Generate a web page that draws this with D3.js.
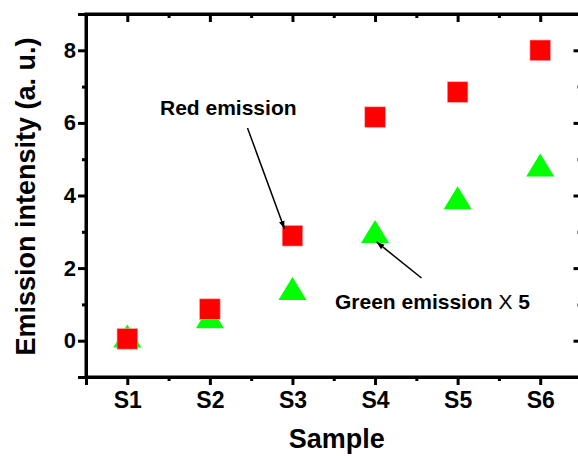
<!DOCTYPE html>
<html>
<head>
<meta charset="utf-8">
<script src="https://cdn.jsdelivr.net/npm/d3@7"></script>
<style>
  body { margin: 0; background: #fff; }
  svg text { font-family: "Liberation Sans", Arial, sans-serif; font-weight: bold; fill: #000; }
  .axis path, .axis line { stroke: #000; stroke-width: 3; }
</style>
</head>
<body>
<svg id="chart" width="578" height="456"></svg>
<script>
// Data
const samples = ["S1", "S2", "S3", "S4", "S5", "S6"];
const redEmission = [0.05, 0.87, 2.89, 6.16, 6.85, 8.0];
const greenEmissionX5 = [0.13, 0.66, 1.44, 3.01, 3.94, 4.84];
const yMajorTicks = [0, 2, 4, 6, 8];
const yMinorTicks = [-1, 1, 3, 5, 7, 9];
const xMinorTicks = [0.5, 1.5, 2.5, 3.5, 4.5, 5.5, 6.5];

const svg = d3.select("#chart");
const pLeft = 86, pRight = 581.5, pTop = 14, pBottom = 377;

const x = d3.scaleLinear().domain([0.5, 6.5]).range([pLeft, pRight]);
const y = d3.scaleLinear().domain([-1, 9]).range([pBottom, pTop]);
const xi = i => x(i + 1);

// frame
svg.append("rect")
  .attr("x", pLeft).attr("y", pTop)
  .attr("width", pRight - pLeft).attr("height", pBottom - pTop)
  .attr("fill", "none").attr("stroke", "#000").attr("stroke-width", 3);

// bottom axis
const gb = svg.append("g").attr("class", "axis").attr("transform", `translate(0,${pBottom})`);
gb.call(d3.axisBottom(x).tickValues([1, 2, 3, 4, 5, 6]).tickSize(8).tickPadding(7)
  .tickFormat(d => samples[d - 1]));
gb.append("g").call(d3.axisBottom(x).tickValues(xMinorTicks).tickSize(4).tickFormat(""))
  .call(g => g.select(".domain").remove());
gb.selectAll("text").attr("font-size", 23).attr("font-family", "Liberation Sans, Arial, sans-serif")
  .attr("font-weight", "bold").attr("fill", "#000");

// top axis (ticks inward)
const gt = svg.append("g").attr("class", "axis").attr("transform", `translate(0,${pTop})`);
gt.call(d3.axisTop(x).tickValues([1, 2, 3, 4, 5, 6]).tickSize(-8).tickFormat(""));
gt.append("g").call(d3.axisTop(x).tickValues(xMinorTicks).tickSize(-4).tickFormat(""))
  .call(g => g.select(".domain").remove());

// left axis
const gl = svg.append("g").attr("class", "axis").attr("transform", `translate(${pLeft},0)`);
gl.call(d3.axisLeft(y).tickValues(yMajorTicks).tickSize(8).tickPadding(2).tickFormat(d3.format("d")));
gl.append("g").call(d3.axisLeft(y).tickValues(yMinorTicks).tickSize(4).tickFormat(""))
  .call(g => g.select(".domain").remove());
gl.selectAll("text").attr("font-size", 22).attr("font-family", "Liberation Sans, Arial, sans-serif")
  .attr("font-weight", "bold").attr("fill", "#000");

// right axis (ticks inward)
const gr = svg.append("g").attr("class", "axis").attr("transform", `translate(${pRight},0)`);
gr.call(d3.axisRight(y).tickValues(yMajorTicks).tickSize(-8).tickFormat(""));
gr.append("g").call(d3.axisRight(y).tickValues(yMinorTicks).tickSize(-4).tickFormat(""))
  .call(g => g.select(".domain").remove());

// axis titles
svg.append("text")
  .attr("x", (pLeft + pRight) / 2 + 3).attr("y", 448)
  .attr("text-anchor", "middle").attr("font-size", 27)
  .text("Sample");

svg.append("text")
  .attr("transform", `translate(35,${(pTop + pBottom) / 2 + 1}) rotate(-90)`)
  .attr("text-anchor", "middle").attr("font-size", 27)
  .text("Emission intensity (a. u.)");

// green triangles (drawn first, red squares on top)
const triW = 28, triH = 23;
svg.append("g").selectAll("path")
  .data(greenEmissionX5)
  .join("path")
  .attr("d", (d, i) => {
    const cx = xi(i), cy = y(d);
    return `M${cx},${cy - triH / 2}L${cx + triW / 2},${cy + triH / 2}L${cx - triW / 2},${cy + triH / 2}Z`;
  })
  .attr("fill", "#00ff00");

const sq = 20.5;
svg.append("g").selectAll("rect")
  .data(redEmission)
  .join("rect")
  .attr("x", (d, i) => xi(i) - sq / 2)
  .attr("y", d => y(d) - sq / 2)
  .attr("width", sq).attr("height", sq)
  .attr("fill", "#ff0000")
  .attr("stroke", "#ff9999").attr("stroke-width", 0.6);

// arrows
svg.append("defs").append("marker")
  .attr("id", "arrow")
  .attr("viewBox", "0 0 10 10")
  .attr("refX", 10).attr("refY", 5)
  .attr("markerWidth", 8).attr("markerHeight", 8)
  .attr("markerUnits", "userSpaceOnUse")
  .attr("orient", "auto")
  .append("path").attr("d", "M0,1.5L10,5L0,8.5Z").attr("fill", "#000");

svg.append("line")
  .attr("x1", 247.5).attr("y1", 128)
  .attr("x2", xi(2) - 8).attr("y2", y(redEmission[2]) - 7)
  .attr("stroke", "#000").attr("stroke-width", 1.5)
  .attr("marker-end", "url(#arrow)");

svg.append("line")
  .attr("x1", 421.5).attr("y1", 278)
  .attr("x2", xi(3) + 1.5).attr("y2", y(greenEmissionX5[3]) + 10.5)
  .attr("stroke", "#000").attr("stroke-width", 1.5)
  .attr("marker-end", "url(#arrow)");

// annotation texts
svg.append("text")
  .attr("x", 160).attr("y", 115).attr("font-size", 21)
  .text("Red emission");

const gtxt = svg.append("text")
  .attr("x", 335).attr("y", 309).attr("font-size", 21);
gtxt.append("tspan").text("Green emission ");
gtxt.append("tspan").attr("font-weight", "normal").text("X");
gtxt.append("tspan").text(" 5");
</script>
</body>
</html>
